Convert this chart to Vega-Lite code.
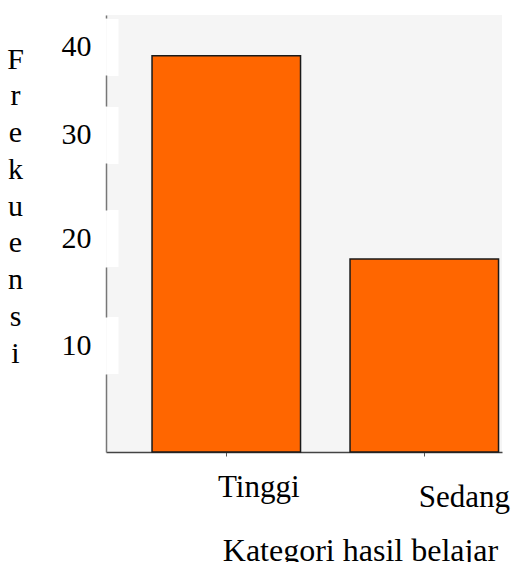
{
  "$schema": "https://vega.github.io/schema/vega-lite/v6.json",
  "width": 396,
  "height": 437,
  "autosize": {"type": "none"},
  "padding": {"left": 106, "top": 15, "right": 11, "bottom": 110},
  "background": "white",
  "config": {"view": {"fill": "#f5f5f5", "stroke": null}, "font": "Liberation Serif"},
  "data": {"values": [
    {"kategori": "Tinggi", "frekuensi": 39},
    {"kategori": "Sedang", "frekuensi": 19}
  ]},
  "mark": {"type": "bar", "fill": "#ff6600", "stroke": "#1a1a1a", "strokeWidth": 1.5},
  "encoding": {
    "x": {
      "field": "kategori", "type": "nominal", "sort": ["Tinggi", "Sedang"],
      "scale": {"paddingInner": 0.25, "paddingOuter": 0.125, "align": 0.93},
      "axis": {
        "title": "Kategori hasil belajar", "titleFont": "Liberation Serif", "titleFontSize": 32,
        "titleFontWeight": "normal", "titleColor": "black", "titleX": 254, "titleY": 108,
        "titleBaseline": "alphabetic", "titleAlign": "center",
        "labelAngle": 0, "labelFont": "Liberation Serif", "labelFontSize": 31, "labelColor": "black",
        "labelBaseline": "alphabetic", "labelAlign": "center",
        "labelPadding": {"condition": {"test": "datum.value == 'Sedang'", "value": 50}, "value": 40},
        "labelOffset": {"condition": {"test": "datum.value == 'Sedang'", "value": 40}, "value": 32.5},
        "tickSize": 4, "tickColor": "#555", "domainColor": "#444", "domainWidth": 1.5
      }
    },
    "y": {
      "field": "frekuensi", "type": "quantitative",
      "scale": {"domain": [0, 43], "nice": false},
      "axis": {
        "grid": false,
        "values": [10.48, 21.01, 31.24, 39.9],
        "labelExpr": "format(round(datum.value / 10) * 10, 'd')",
        "labelFont": "Liberation Serif", "labelFontSize": 30, "labelColor": "black",
        "labelBaseline": "middle", "labelPadding": 27,
        "tickSize": -12, "tickWidth": 57, "tickColor": "white",
        "domainColor": "#777", "domainWidth": 1.5,
        "domainDash": [78, 57, 50, 57, 47, 57, 31, 57, 3, 100],
        "title": ["F", "r", "e", "k", "u", "e", "n", "s", "i"],
        "titleAngle": 0, "titleX": -91, "titleY": 53, "titleAlign": "center",
        "titleBaseline": "alphabetic", "titleLineHeight": 36.75,
        "titleFont": "Liberation Serif", "titleFontSize": 30, "titleFontWeight": "normal", "titleColor": "black"
      }
    }
  }
}
